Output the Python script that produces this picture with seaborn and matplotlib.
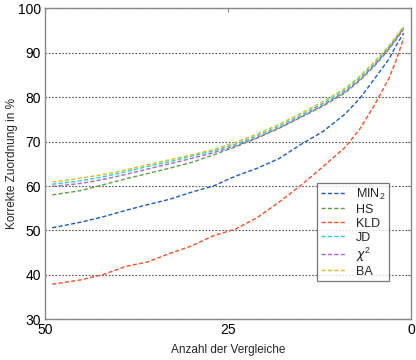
import matplotlib
matplotlib.use('Agg')
import matplotlib.pyplot as plt
import seaborn as sns
import pandas as pd

# Werte
vergleiche = [49, 45, 42, 39, 36, 33, 30, 27, 24, 21, 18, 15, 12, 9, 7, 5, 3, 2, 1]

min2 = [50.6, 51.9, 53.1, 54.5, 55.8, 57.0, 58.6, 60.0, 62.2, 64.0, 66.2, 69.4, 72.3, 76.2, 79.7, 84.1, 88.6, 91.7, 94.4]
hs = [58.0, 59.0, 60.3, 61.6, 62.8, 64.0, 65.3, 67.0, 68.8, 70.8, 73.0, 75.5, 78.0, 81.0, 83.7, 87.0, 90.8, 93.0, 95.3]
kld = [37.9, 38.9, 40.1, 41.9, 42.9, 44.8, 46.5, 48.8, 50.3, 52.9, 56.4, 60.2, 64.4, 68.7, 72.8, 78.2, 84.3, 88.4, 93.3]
jd = [60.4, 61.2, 62.1, 63.2, 64.4, 65.5, 66.7, 67.9, 69.4, 71.3, 73.5, 76.0, 78.6, 81.6, 84.3, 87.6, 91.3, 93.5, 95.8]
chi2 = [59.9, 60.6, 61.5, 62.6, 63.8, 65.0, 66.2, 67.5, 69.0, 70.9, 73.1, 75.6, 78.2, 81.2, 83.9, 87.2, 91.0, 93.2, 95.5]
ba = [60.9, 61.8, 62.6, 63.6, 64.8, 65.9, 67.0, 68.2, 69.8, 71.7, 73.9, 76.4, 79.0, 82.0, 84.7, 88.0, 91.6, 93.8, 96.0]

namen = ['MIN$_2$', 'HS', 'KLD', 'JD', r'$\chi^2$', 'BA']
reihen = [min2, hs, kld, jd, chi2, ba]
farben = ['#1f5cb8', '#5f9e45', '#f4502a', '#2ccfcf', '#a466cc', '#d4c22a']

rows = []
for name, werte in zip(namen, reihen):
    for x, y in zip(vergleiche, werte):
        rows.append({'x': x, 'y': y, 'Methode': name})
df = pd.DataFrame(rows)

sns.set_style('white')
plt.rcParams['font.family'] = ['Liberation Sans', 'DejaVu Sans']
plt.rcParams['mathtext.fontset'] = 'custom'
plt.rcParams['mathtext.rm'] = 'Liberation Sans'

fig = plt.figure(figsize=(4.16, 3.6), dpi=100)
ax = fig.add_axes([0.108, 0.113, 0.88, 0.864])

sns.lineplot(data=df, x='x', y='y', hue='Methode', hue_order=namen,
             palette=dict(zip(namen, farben)), linewidth=1.0, ax=ax, legend=False,
             sort=False)
for line in ax.get_lines():
    line.set_dashes((3, 1.6))

ax.set_xlim(50, 0)
ax.set_ylim(30, 100)
ax.set_xticks([50, 25, 0])
ax.set_yticks(range(30, 101, 10))
ax.yaxis.grid(True, linestyle=(0, (1.5, 1.5)), color='#555555', linewidth=0.8)
ax.set_axisbelow(True)
ax.tick_params(direction='in', top=True, right=True, length=3, labelsize=10,
               color='#888888', labelcolor='black', pad=3)
for s in ax.spines.values():
    s.set_color('#888888')
    s.set_linewidth(1.0)

ax.set_xlabel('Anzahl der Vergleiche', fontsize=8.5, labelpad=5)
ax.set_ylabel('Korrekte Zuordnung in %', fontsize=8.5, labelpad=0)

handles = [plt.Line2D([], [], color=c, lw=1.0, dashes=(3, 1.6)) for c in farben]
leg = ax.legend(handles, namen, loc='upper left', bbox_to_anchor=(0.743, 0.438),
                fontsize=9, frameon=True, fancybox=False, edgecolor='#555555',
                handlelength=2.0, labelspacing=0.15, borderpad=0.3, handletextpad=0.8,
                borderaxespad=0)
leg.get_frame().set_linewidth(0.9)

fig.savefig('out.png', dpi=100)
